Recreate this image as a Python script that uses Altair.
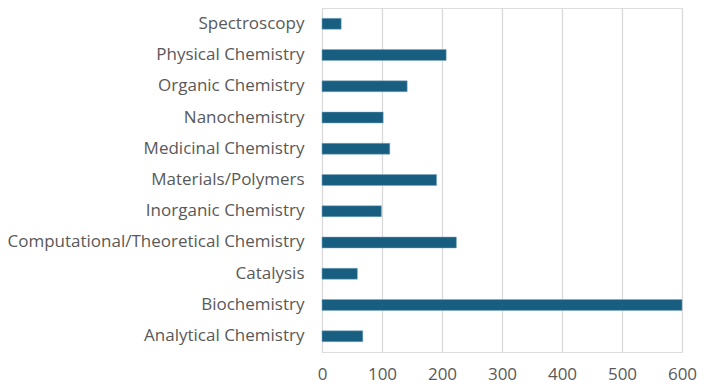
import altair as alt
import pandas as pd

categories = [
    "Spectroscopy",
    "Physical Chemistry",
    "Organic Chemistry",
    "Nanochemistry",
    "Medicinal Chemistry",
    "Materials/Polymers",
    "Inorganic Chemistry",
    "Computational/Theoretical Chemistry",
    "Catalysis\u00a0",
    "Biochemistry\u00a0",
    "Analytical Chemistry",
]
values = [32, 207, 142, 102, 113, 191, 99, 224, 59, 600, 68]
x_ticks = [0, 100, 200, 300, 400, 500, 600]

df = pd.DataFrame({"category": categories, "value": values})

chart = (
    alt.Chart(df)
    .mark_bar(color="#185E80", stroke="#7FA9C0", strokeWidth=0.5)
    .encode(
        x=alt.X(
            "value:Q",
            scale=alt.Scale(domain=[0, 600], nice=False),
            axis=alt.Axis(
                values=x_ticks,
                title=None,
                domain=False,
                ticks=False,
                tickSize=0,
                labelPadding=14,
                labelFontSize=17,
                labelColor="#595959",
                labelFont="Open Sans",
                labelFlush=False,
                labelOverlap=False,
                grid=True,
                gridColor="#D9D9D9",
                gridWidth=1.3,
            ),
        ),
        y=alt.Y(
            "category:N",
            sort=categories,
            scale=alt.Scale(paddingInner=0.65, paddingOuter=0.33),
            axis=alt.Axis(
                title=None,
                domain=False,
                ticks=False,
                tickSize=0,
                labelPadding=18,
                labelFontSize=17,
                labelColor="#595959",
                labelFont="Open Sans",
                labelLimit=400,
            ),
        ),
    )
    .properties(
        width=360,
        height=344,
        autosize=alt.AutoSizeParams(type="none"),
        padding={"left": 314, "top": 0, "right": 16, "bottom": 32},
    )
    .configure_view(stroke=None)
    .configure(background="white")
)

chart.save("out.html", embed_options={"renderer": "svg", "actions": False})
